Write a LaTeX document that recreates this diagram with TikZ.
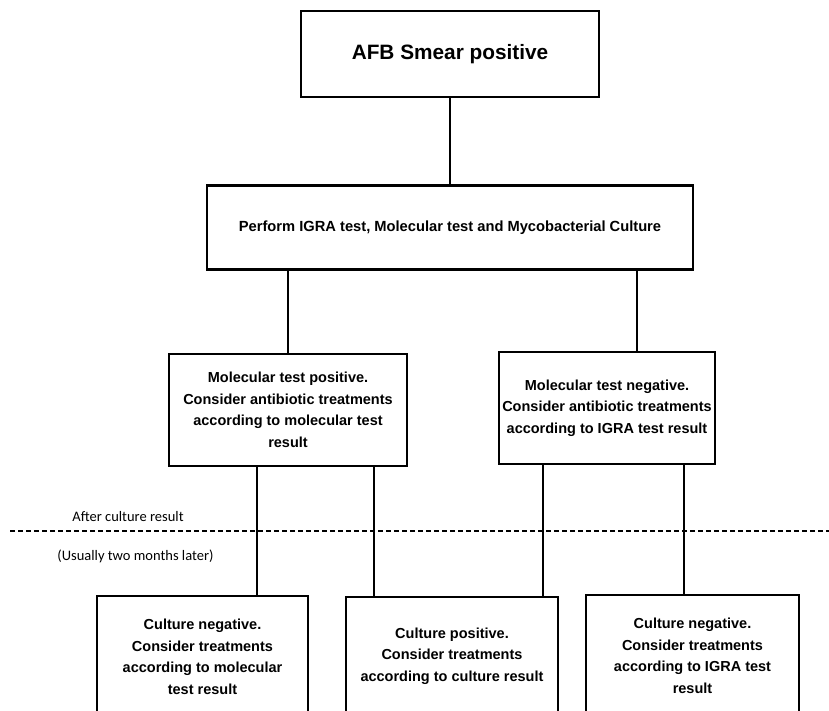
\documentclass[tikz,border=0pt]{standalone}
\usepackage{fontspec}
\setmainfont{Liberation Sans}
\newfontfamily\notefont{Carlito}
\usetikzlibrary{positioning}

\begin{document}
\begin{tikzpicture}[
        x=1pt, y=-1pt,
        node distance=86pt,
        box/.style={draw, line width=2.8pt, align=center, inner sep=0pt,
            font=\bfseries\fontsize{14.5}{21.6}\selectfont},
        link/.style={line width=2.8pt},
        note/.style={inner sep=0pt, font=\notefont\fontsize{14.5}{18}\selectfont},
        timeline/.style={line width=1.2pt, dash pattern=on 5pt off 3pt}
    ]
    \useasboundingbox (0,0) rectangle (829,710);
    \clip (0,0) rectangle (829,710);

    % Nodes
    \node (afb)[box, minimum width=298pt, minimum height=86pt,
        font=\bfseries\fontsize{20.8}{24}\selectfont] at (450,54) {AFB Smear positive};
    \node (perform)[box, below=of afb, minimum width=486pt, minimum height=84pt,
        font=\bfseries\fontsize{14.7}{18}\selectfont]
        {Perform IGRA test, Molecular test and Mycobacterial Culture};

    \node (molpos)[box, minimum width=238pt, minimum height=112pt] at (288,410)
        {Molecular test positive.\\ Consider antibiotic treatments\\
        according to molecular test\\ result};
    \node (molneg)[box, minimum width=216pt, minimum height=112pt] at (607,408)
        {Molecular test negative.\\ Consider antibiotic treatments\\
        according to IGRA test result};

    \node (culneg1)[box, minimum width=211pt, minimum height=122pt] at (202.5,657)
        {Culture negative.\\ Consider treatments\\ according to molecular\\ test result};
    \node (culpos)[box, minimum width=212pt, minimum height=118pt] at (452,656)
        {Culture positive.\\ Consider treatments\\ according to culture result};
    \node (culneg2)[box, minimum width=213pt, minimum height=122pt] at (692.5,656)
        {Culture negative.\\ Consider treatments\\ according to IGRA test\\ result};

    % time line
    \coordinate (tl) at (10,531);
    \draw[timeline] (tl) -- (tl -| 829,0);
    \node (after)[note] at (128,517) {After culture result};
    \node (later)[note] at (135.5,556) {(Usually two months later)};

    % Edges
    \draw[link] (afb.south) -- (afb.south |- perform.north);
    \draw[link] (molpos.north) -- (molpos.north |- perform.south);
    \draw[link] ([xshift=30pt]molneg.north) -- ([xshift=30pt]molneg.north |- perform.south);

    \draw[link] ([xshift=-31pt]molpos.south) -- ([xshift=-31pt]molpos.south |- culneg1.north);
    \draw[link] ([xshift=86pt]molpos.south) -- ([xshift=86pt]molpos.south |- culpos.north);
    \draw[link] ([xshift=-64pt]molneg.south) -- ([xshift=-64pt]molneg.south |- culpos.north);
    \draw[link] ([xshift=77pt]molneg.south) -- ([xshift=77pt]molneg.south |- culneg2.north);

\end{tikzpicture}
\end{document}
